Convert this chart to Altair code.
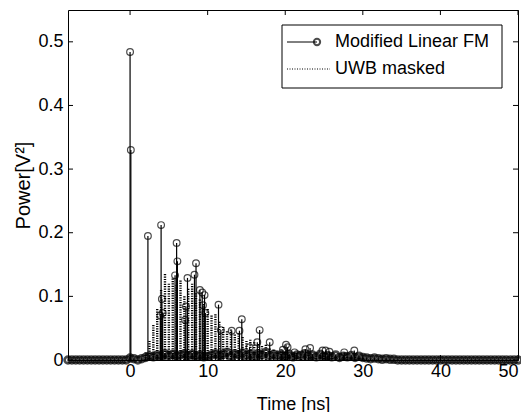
import altair as alt
import pandas as pd

FONT = "Liberation Sans"

# Modified Linear FM: main stems (time in ns, power in V^2)
fm_t = [0.0, 0.1, 2.3, 3.9, 4.0, 4.1, 4.2, 5.8, 6.0, 6.1, 7.1, 7.2, 7.4, 8.3, 8.5,
        9.0, 9.3, 9.4, 9.6, 9.7, 11.4, 11.7, 13.1, 14.1, 14.4, 15.4, 16.4, 16.7,
        18.0, 19.7, 20.1, 20.3, 21.2, 22.6, 23.2, 24.8, 25.2, 25.7, 27.6, 28.9]
fm_v = [0.484, 0.330, 0.195, 0.070, 0.212, 0.096, 0.074, 0.133, 0.184, 0.155, 0.063, 0.084, 0.129, 0.134, 0.152,
        0.110, 0.106, 0.086, 0.102, 0.074, 0.087, 0.047, 0.046, 0.046, 0.064, 0.020, 0.028, 0.047,
        0.028, 0.016, 0.024, 0.020, 0.012, 0.017, 0.019, 0.015, 0.015, 0.013, 0.012, 0.015]

# Modified Linear FM: near-zero samples forming the baseline band
floor_t = [-8.0, -7.5, -7.0, -6.5, -6.0, -5.5, -5.0, -4.5, -4.0, -3.5,
           -3.0, -2.5, -2.0, -1.5, -1.0, -0.5, 0.0, 0.5, 1.0, 1.5,
           2.0, 2.5, 3.0, 3.5, 4.0, 4.5, 5.0, 5.5, 6.0, 6.5, 7.0, 7.5, 8.0, 8.5, 9.0, 9.5,
           10.0, 10.5, 11.0, 11.5, 12.0, 12.5, 13.0, 13.5, 14.0, 14.5,
           15.0, 15.5, 16.0, 16.5, 17.0, 17.5, 18.0, 18.5, 19.0, 19.5,
           20.0, 20.5, 21.0, 21.5, 22.0, 22.5, 23.0, 23.5, 24.0, 24.5,
           25.0, 25.5, 26.0, 26.5, 27.0, 27.5, 28.0, 28.5, 29.0, 29.5,
           30.0, 30.5, 31.0, 31.5, 32.0, 32.5, 33.0, 33.5, 34.0, 34.5,
           35.0, 35.5, 36.0, 36.5, 37.0, 37.5, 38.0, 38.5, 39.0, 39.5,
           40.0, 40.5, 41.0, 41.5, 42.0, 42.5, 43.0, 43.5, 44.0, 44.5,
           45.0, 45.5, 46.0, 46.5, 47.0, 47.5, 48.0, 48.5, 49.0, 49.5, 50.0]
floor_v = [0.0, 0.0, 0.0, 0.0, 0.0, 0.0, 0.0, 0.0, 0.0, 0.0,
           0.0, 0.0, 0.0, 0.0, 0.0, 0.0, 0.003, 0.002, 0.0, 0.002,
           0.004, 0.006, 0.005, 0.008, 0.006, 0.010, 0.007, 0.009, 0.006, 0.008, 0.010, 0.007, 0.009, 0.006, 0.008, 0.005,
           0.006, 0.008, 0.010, 0.007, 0.009, 0.012, 0.006, 0.010, 0.008, 0.011,
           0.007, 0.009, 0.006, 0.010, 0.008, 0.012, 0.007, 0.009, 0.006, 0.008,
           0.006, 0.009, 0.005, 0.008, 0.007, 0.010, 0.006, 0.008, 0.005, 0.009,
           0.006, 0.007, 0.005, 0.008, 0.004, 0.006, 0.005, 0.007, 0.004, 0.006,
           0.004, 0.003, 0.002, 0.003, 0.002, 0.001, 0.002, 0.001, 0.001, 0.0,
           0.0, 0.0, 0.0, 0.0, 0.0, 0.0, 0.0, 0.0, 0.0, 0.0,
           0.0, 0.0, 0.0, 0.0, 0.0, 0.0, 0.0, 0.0, 0.0, 0.0,
           0.0, 0.0, 0.0, 0.0, 0.0, 0.0, 0.0, 0.0, 0.0, 0.0, 0.0]

# UWB masked: dotted stems
uwb_t = [2.0, 2.5, 3.0, 3.5, 4.0, 4.5, 5.0, 5.5, 6.0, 6.5, 7.0, 7.5, 8.0, 8.5, 9.0, 9.5,
         10.0, 10.5, 11.0, 11.5, 12.0, 12.5, 13.0, 13.5, 14.0, 14.5,
         15.0, 15.5, 16.0, 16.5, 17.0, 17.5, 18.0, 18.5, 19.0, 19.5,
         20.0, 20.5, 21.0, 21.5, 22.0, 22.5, 23.0, 23.5, 24.0, 24.5,
         25.0, 25.5, 26.0, 26.5, 27.0, 27.5, 28.0, 28.5, 29.0, 29.5, 30.0]
uwb_v = [0.012, 0.030, 0.055, 0.080, 0.110, 0.135, 0.120, 0.128, 0.118, 0.125, 0.100, 0.112, 0.120, 0.105, 0.095, 0.088,
         0.080, 0.070, 0.072, 0.060, 0.052, 0.045, 0.048, 0.040, 0.042, 0.036,
         0.030, 0.032, 0.028, 0.025, 0.022, 0.024, 0.018, 0.016, 0.015, 0.017,
         0.013, 0.012, 0.010, 0.011, 0.009, 0.010, 0.008, 0.009, 0.007, 0.008,
         0.007, 0.006, 0.007, 0.005, 0.006, 0.005, 0.005, 0.004, 0.005, 0.003, 0.003]

x_ticks = [0, 10, 20, 30, 40, 50]
y_ticks = [0, 0.1, 0.2, 0.3, 0.4, 0.5]

W, H = 450, 350

fm = pd.DataFrame({"t": fm_t, "v": fm_v})
floor = pd.DataFrame({"t": floor_t, "v": floor_v})
uwb = pd.DataFrame({"t": uwb_t, "v": uwb_v})
xt = pd.DataFrame({"t": x_ticks})
yt = pd.DataFrame({"v": y_ticks})
one = pd.DataFrame({"k": [0]})

xscale = alt.Scale(domain=[-8, 50], nice=False, zero=False)
yscale = alt.Scale(domain=[0, 0.55], nice=False, zero=False)
xaxis = alt.Axis(title="Time [ns]", values=x_ticks, labelPadding=2, titlePadding=15)
yaxis = alt.Axis(title="Power[V²]", values=y_ticks, format=".1~f", labelPadding=5, titlePadding=4,
                 titleFontSize=20)
X = alt.X("t:Q", scale=xscale, axis=xaxis)
Y = alt.Y("v:Q", scale=yscale, axis=yaxis)

uwb_stems = alt.Chart(uwb).mark_rule(color="black", strokeWidth=2.4, strokeDash=[1.2, 1.2]).encode(
    x=X, y=Y, y2=alt.datum(0))
fm_stems = alt.Chart(fm).mark_rule(color="black", strokeWidth=1.2).encode(x=X, y=Y, y2=alt.datum(0))
fm_pts = alt.Chart(fm).mark_point(shape="circle", size=45, color="black", filled=False, strokeWidth=1.2).encode(x=X, y=Y)
floor_stems = alt.Chart(floor).mark_rule(color="black", strokeWidth=1).encode(x=X, y=Y, y2=alt.datum(0))
floor_pts = alt.Chart(floor).mark_point(shape="circle", size=45, color="black", filled=False, strokeWidth=2.8).encode(x=X, y=Y)

tick_b = alt.Chart(xt).mark_rule(color="black").encode(x=X, y=alt.value(H), y2=alt.value(H - 5))
tick_t = alt.Chart(xt).mark_rule(color="black").encode(x=X, y=alt.value(0), y2=alt.value(5))
tick_l = alt.Chart(yt).mark_rule(color="black").encode(y=Y, x=alt.value(0), x2=alt.value(5))
tick_r = alt.Chart(yt).mark_rule(color="black").encode(y=Y, x=alt.value(W), x2=alt.value(W - 5))

lg_box = alt.Chart(one).mark_rect(fill="white", stroke="black", strokeWidth=1).encode(
    x=alt.value(214), x2=alt.value(434), y=alt.value(15), y2=alt.value(78))
lg_l1 = alt.Chart(one).mark_rule(color="black", strokeWidth=1).encode(
    x=alt.value(219), x2=alt.value(249), y=alt.value(32))
lg_p1 = alt.Chart(one).mark_point(shape="circle", size=40, color="black", filled=False).encode(
    x=alt.value(249), y=alt.value(32))
lg_l2 = alt.Chart(one).mark_rule(color="black", strokeWidth=1, strokeDash=[1, 1.5]).encode(
    x=alt.value(219), x2=alt.value(262), y=alt.value(59))
lg_t1 = alt.Chart(one).mark_text(align="left", baseline="middle", font=FONT, fontSize=18, color="black").encode(
    x=alt.value(267), y=alt.value(32), text=alt.value("Modified Linear FM"))
lg_t2 = alt.Chart(one).mark_text(align="left", baseline="middle", font=FONT, fontSize=18, color="black").encode(
    x=alt.value(267), y=alt.value(59), text=alt.value("UWB masked"))

chart = alt.layer(
    uwb_stems, fm_stems, floor_stems, floor_pts, fm_pts, tick_b, tick_t, tick_l, tick_r,
    lg_box, lg_l1, lg_p1, lg_l2, lg_t1, lg_t2
).properties(
    width=W, height=H,
    autosize=alt.AutoSizeParams(type="none"),
    padding={"left": 60, "top": 2, "right": 3, "bottom": 52},
    background="white",
).configure_view(stroke="black", strokeWidth=1).configure_axis(
    grid=False, domain=False, ticks=False, tickSize=0,
    labelFont=FONT, labelFontSize=18, labelColor="black",
    titleFont=FONT, titleFontSize=18, titleFontWeight="normal", titleColor="black",
)

chart.save("out.html", embed_options={"renderer": "svg", "actions": False})
